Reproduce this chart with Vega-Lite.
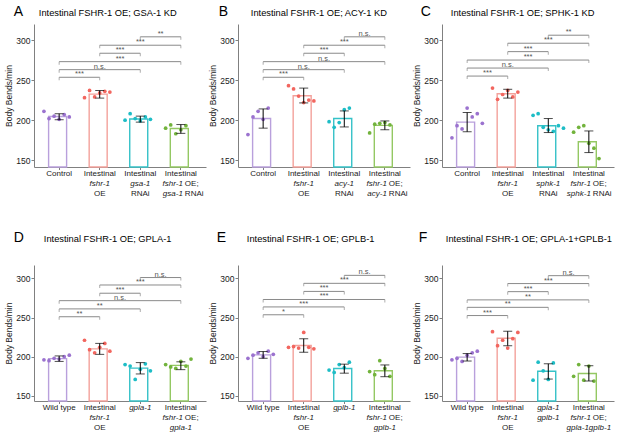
{
  "$schema": "https://vega.github.io/schema/vega-lite/v6.json",
  "padding": {"left": 4, "top": 5, "right": 2, "bottom": 2},
  "config": {
    "font": "Liberation Sans",
    "view": {"stroke": null},
    "axis": {"labelFont": "Liberation Sans", "titleFont": "Liberation Sans", "labelFontSize": 8.5, "titleFontSize": 8.5, "titleFontWeight": "normal", "labelColor": "#1a1a1a", "titleColor": "#1a1a1a", "domainColor": "#808080", "tickColor": "#808080", "tickSize": 3, "labelPadding": 1, "titlePadding": 2, "grid": false},
    "axisX": {"labelFontSize": 8, "labelLineHeight": 10, "labelAngle": 0, "labelPadding": 0, "tickSize": 2.5, "title": null},
    "title": {"font": "Liberation Sans", "fontWeight": "normal", "anchor": "start", "color": "#000000", "baseline": "alphabetic"}
  },
  "datasets": {
    "Ab": [{"g":1,"m":204.5,"lo":200.5,"hi":208},{"g":2,"m":232.5,"lo":227.5,"hi":237},{"g":3,"m":201.5,"lo":197.5,"hi":205},{"g":4,"m":189.5,"lo":183.5,"hi":194.5}],
    "Ap": [{"g":1,"r":1,"v":211},{"g":1,"r":2,"v":202},{"g":1,"r":3,"v":205},{"g":1,"r":4,"v":201},{"g":1,"r":5,"v":207},{"g":1,"r":6,"v":204},
           {"g":2,"r":1,"v":228},{"g":2,"r":2,"v":237},{"g":2,"r":3,"v":229},{"g":2,"r":4,"v":234},{"g":2,"r":5,"v":236},{"g":2,"r":6,"v":235},
           {"g":3,"r":1,"v":200},{"g":3,"r":2,"v":208},{"g":3,"r":3,"v":202},{"g":3,"r":4,"v":199},{"g":3,"r":5,"v":204},{"g":3,"r":6,"v":201},
           {"g":4,"r":1,"v":190},{"g":4,"r":2,"v":194},{"g":4,"r":3,"v":183},{"g":4,"r":4,"v":188},{"g":4,"r":5,"v":193}],
    "As": [{"a":1,"b":2,"y":253.5,"t":"***"},{"a":1,"b":3,"y":263,"t":"n.s."},{"a":1,"b":4,"y":273,"t":"***"},{"a":2,"b":3,"y":283.5,"t":"***"},{"a":2,"b":4,"y":293.5,"t":"***"},{"a":3,"b":4,"y":304,"t":"**"}],
    "Bb": [{"g":1,"m":202,"lo":190,"hi":214},{"g":2,"m":230.5,"lo":221.5,"hi":240},{"g":3,"m":202,"lo":191.5,"hi":211.5},{"g":4,"m":193.5,"lo":188,"hi":199}],
    "Bp": [{"g":1,"r":1,"v":182},{"g":1,"r":2,"v":204},{"g":1,"r":3,"v":211},{"g":1,"r":4,"v":201},{"g":1,"r":5,"v":215},
           {"g":2,"r":1,"v":243},{"g":2,"r":2,"v":239},{"g":2,"r":3,"v":230},{"g":2,"r":4,"v":222},{"g":2,"r":5,"v":225},{"g":2,"r":6,"v":224},
           {"g":3,"r":1,"v":198},{"g":3,"r":2,"v":191},{"g":3,"r":3,"v":197},{"g":3,"r":4,"v":213},{"g":3,"r":5,"v":215},
           {"g":4,"r":1,"v":184},{"g":4,"r":2,"v":195},{"g":4,"r":3,"v":196},{"g":4,"r":4,"v":197},{"g":4,"r":5,"v":194}],
    "Bs": [{"a":1,"b":2,"y":253.5,"t":"***"},{"a":1,"b":3,"y":263,"t":"n.s."},{"a":1,"b":4,"y":273,"t":"n.s."},{"a":2,"b":3,"y":283.5,"t":"***"},{"a":2,"b":4,"y":293.5,"t":"***"},{"a":3,"b":4,"y":304,"t":"n.s."}],
    "Cb": [{"g":1,"m":197.5,"lo":185.5,"hi":209.5},{"g":2,"m":233,"lo":227.5,"hi":238.5},{"g":3,"m":193,"lo":184.5,"hi":202},{"g":4,"m":173,"lo":159.5,"hi":186.5}],
    "Cp": [{"g":1,"r":1,"v":178},{"g":1,"r":2,"v":193},{"g":1,"r":3,"v":189},{"g":1,"r":4,"v":215},{"g":1,"r":5,"v":204},{"g":1,"r":6,"v":208},{"g":1,"r":7,"v":196},
           {"g":2,"r":1,"v":240},{"g":2,"r":2,"v":226},{"g":2,"r":3,"v":232},{"g":2,"r":4,"v":237},{"g":2,"r":5,"v":229},{"g":2,"r":6,"v":235},
           {"g":3,"r":1,"v":206},{"g":3,"r":2,"v":208},{"g":3,"r":3,"v":191},{"g":3,"r":4,"v":188},{"g":3,"r":5,"v":186},{"g":3,"r":6,"v":193},{"g":3,"r":7,"v":190},
           {"g":4,"r":1,"v":185},{"g":4,"r":2,"v":191},{"g":4,"r":3,"v":193},{"g":4,"r":4,"v":171},{"g":4,"r":5,"v":165},{"g":4,"r":6,"v":152}],
    "Cs": [{"a":1,"b":2,"y":255,"t":"***"},{"a":1,"b":3,"y":265,"t":"n.s."},{"a":1,"b":4,"y":275,"t":"***"},{"a":2,"b":3,"y":285.5,"t":"***"},{"a":2,"b":4,"y":296,"t":"***"},{"a":3,"b":4,"y":306,"t":"**"}],
    "Db": [{"g":1,"m":197.5,"lo":194,"hi":201},{"g":2,"m":210,"lo":203,"hi":217},{"g":3,"m":185.5,"lo":178,"hi":192.5},{"g":4,"m":189,"lo":183.5,"hi":193.5}],
    "Dp": [{"g":1,"r":1,"v":196},{"g":1,"r":2,"v":195},{"g":1,"r":3,"v":198},{"g":1,"r":4,"v":197},{"g":1,"r":5,"v":200},{"g":1,"r":6,"v":202},
           {"g":2,"r":1,"v":221},{"g":2,"r":2,"v":209},{"g":2,"r":3,"v":205},{"g":2,"r":4,"v":212},{"g":2,"r":5,"v":217},{"g":2,"r":6,"v":207},
           {"g":3,"r":1,"v":190},{"g":3,"r":2,"v":188},{"g":3,"r":3,"v":171},{"g":3,"r":4,"v":184},{"g":3,"r":5,"v":191},{"g":3,"r":6,"v":182},
           {"g":4,"r":1,"v":190},{"g":4,"r":2,"v":187},{"g":4,"r":3,"v":185},{"g":4,"r":4,"v":194},{"g":4,"r":5,"v":188},{"g":4,"r":6,"v":197}],
    "Ds": [{"a":1,"b":2,"y":251,"t":"**"},{"a":1,"b":3,"y":261,"t":"**"},{"a":1,"b":4,"y":271.5,"t":"n.s."},{"a":2,"b":3,"y":281,"t":"***"},{"a":2,"b":4,"y":291.5,"t":"***"},{"a":3,"b":4,"y":301,"t":"n.s."}],
    "Eb": [{"g":1,"m":202.3,"lo":198,"hi":206.6},{"g":2,"m":214.3,"lo":205.7,"hi":222.9},{"g":3,"m":185,"lo":179,"hi":190.5},{"g":4,"m":182,"lo":174.5,"hi":189.5}],
    "Ep": [{"g":1,"r":1,"v":198},{"g":1,"r":2,"v":202},{"g":1,"r":3,"v":205},{"g":1,"r":4,"v":200},{"g":1,"r":5,"v":207},{"g":1,"r":6,"v":203},
           {"g":2,"r":1,"v":212},{"g":2,"r":2,"v":213},{"g":2,"r":3,"v":211},{"g":2,"r":4,"v":231},{"g":2,"r":5,"v":212},{"g":2,"r":6,"v":210},
           {"g":3,"r":1,"v":183},{"g":3,"r":2,"v":180},{"g":3,"r":3,"v":190},{"g":3,"r":4,"v":186},{"g":3,"r":5,"v":193},
           {"g":4,"r":1,"v":181},{"g":4,"r":2,"v":177},{"g":4,"r":3,"v":195},{"g":4,"r":4,"v":185},{"g":4,"r":5,"v":175}],
    "Es": [{"a":1,"b":2,"y":253.5,"t":"*"},{"a":1,"b":3,"y":263.5,"t":"***"},{"a":1,"b":4,"y":273,"t":"***"},{"a":2,"b":3,"y":283.3,"t":"***"},{"a":2,"b":4,"y":293.6,"t":"***"},{"a":3,"b":4,"y":303.8,"t":"n.s."}],
    "Fb": [{"g":1,"m":199.5,"lo":194.5,"hi":204},{"g":2,"m":223.5,"lo":214,"hi":232.5},{"g":3,"m":181.5,"lo":171.5,"hi":191},{"g":4,"m":178.5,"lo":169,"hi":188.5}],
    "Fp": [{"g":1,"r":1,"v":196},{"g":1,"r":2,"v":198},{"g":1,"r":3,"v":194},{"g":1,"r":4,"v":202},{"g":1,"r":5,"v":205},{"g":1,"r":6,"v":207},
           {"g":2,"r":1,"v":232},{"g":2,"r":2,"v":214},{"g":2,"r":3,"v":221},{"g":2,"r":4,"v":211},{"g":2,"r":5,"v":223},{"g":2,"r":6,"v":231},
           {"g":3,"r":1,"v":170},{"g":3,"r":2,"v":193},{"g":3,"r":3,"v":182},{"g":3,"r":4,"v":171},{"g":3,"r":5,"v":192},
           {"g":4,"r":1,"v":175},{"g":4,"r":2,"v":190},{"g":4,"r":3,"v":170},{"g":4,"r":4,"v":188},{"g":4,"r":5,"v":169}],
    "Fs": [{"a":1,"b":2,"y":252.5,"t":"***"},{"a":1,"b":3,"y":263,"t":"**"},{"a":1,"b":4,"y":272.5,"t":"**"},{"a":2,"b":3,"y":283,"t":"***"},{"a":2,"b":4,"y":293.3,"t":"***"},{"a":3,"b":4,"y":303.4,"t":"n.s."}]
  },
  "spacing": 33,
  "vconcat": [
    {
      "spacing": 2,
      "hconcat": [
        {"title": {"text": "A", "fontSize": 14, "offset": -10.5, "dx": 9},
         "hconcat": [{
          "width": 172, "height": 143,
          "title": {"text": "Intestinal FSHR-1 OE; GSA-1 KD", "fontSize": 9.3, "dx": 34, "offset": 6},
          "resolve": {"axis": {"x": "independent"}},
          "layer": [
            {"data": {"name": "Ab"}, "mark": {"type": "bar", "fill": "white", "strokeWidth": 1.4, "width": {"band": 0.52}},
             "encoding": {
               "x": {"field": "g", "type": "ordinal", "scale": {"domain": [1,2,3,4], "paddingInner": 0, "paddingOuter": 0.12},
                     "axis": {"orient": "bottom", "title": null, "labelPadding": 0, "labelExpr": "datum.value == 1 ? 'Control' : 'Intestinal'"}},
               "y": {"field": "m", "type": "quantitative", "scale": {"domain": [141.5, 320], "nice": false, "zero": false, "clamp": true}, "axis": {"title": "Body Bends/min", "values": [150,200,250,300]}},
               "stroke": {"field": "g", "type": "nominal", "scale": {"domain": [1,2,3,4], "range": ["#b9a0dc", "#f3a19b", "#35c2c8", "#94c863"]}, "legend": null}}},
            {"data": {"name": "Ap"}, "mark": {"type": "circle", "size": 14, "opacity": 1},
             "encoding": {
               "x": {"field": "g", "type": "ordinal", "axis": {"orient": "bottom", "title": null, "domain": false, "tickOpacity": 0, "labelPadding": 10, "labelFontStyle": "italic", "labelExpr": "datum.value == 2 ? 'fshr-1' : datum.value == 3 ? 'gsa-1' : ''"}},
               "xOffset": {"field": "r", "type": "nominal", "scale": {"paddingOuter": 3}},
               "y": {"field": "v", "type": "quantitative"},
               "color": {"field": "g", "type": "nominal", "scale": {"domain": [1,2,3,4], "range": ["#9b72cf", "#f2665f", "#1ebdc6", "#72b33c"]}, "legend": null}}},
            {"data": {"name": "Ab"}, "mark": {"type": "rule", "color": "black", "strokeWidth": 1},
             "encoding": {"x": {"field": "g", "type": "ordinal", "axis": {"orient": "bottom", "title": null, "domain": false, "tickOpacity": 0, "labelPadding": 20, "labelExpr": "datum.value == 2 ? 'OE' : datum.value == 3 ? 'RNAi' : ''"}}, "y": {"field": "lo", "type": "quantitative"}, "y2": {"field": "hi"}}},
            {"data": {"name": "Ab"}, "mark": {"type": "tick", "color": "black", "size": 9, "thickness": 1},
             "encoding": {"x": {"field": "g", "type": "ordinal", "axis": {"orient": "bottom", "title": null, "domain": false, "tickOpacity": 0, "labelPadding": 10, "labelAlign": "left", "labelOffset": 4, "labelExpr": "datum.value == 4 ? ['OE;', 'RNAi'] : ''"}}, "y": {"field": "lo", "type": "quantitative"}}},
            {"data": {"name": "Ab"}, "mark": {"type": "tick", "color": "black", "size": 9, "thickness": 1},
             "encoding": {"x": {"field": "g", "type": "ordinal", "axis": {"orient": "bottom", "title": null, "domain": false, "tickOpacity": 0, "labelPadding": 10, "labelAlign": "right", "labelOffset": 2, "labelFontStyle": "italic", "labelExpr": "datum.value == 4 ? ['fshr-1', 'gsa-1'] : ''"}}, "y": {"field": "hi", "type": "quantitative"}}},
            {"data": {"name": "As"}, "mark": {"type": "rule", "color": "#8a8a8a", "strokeWidth": 1},
             "encoding": {"x": {"field": "a", "type": "ordinal", "axis": null}, "x2": {"field": "b"}, "y": {"field": "y", "type": "quantitative"}}},
            {"data": {"name": "As"}, "mark": {"type": "tick", "orient": "vertical", "color": "#8a8a8a", "size": 3, "thickness": 1, "yOffset": 1.5},
             "encoding": {"x": {"field": "a", "type": "ordinal", "axis": null}, "y": {"field": "y", "type": "quantitative"}}},
            {"data": {"name": "As"}, "mark": {"type": "tick", "orient": "vertical", "color": "#8a8a8a", "size": 3, "thickness": 1, "yOffset": 1.5},
             "encoding": {"x": {"field": "b", "type": "ordinal", "axis": null}, "y": {"field": "y", "type": "quantitative"}}},
            {"data": {"name": "As"}, "transform": [{"filter": "datum.b - datum.a == 1"}], "mark": {"type": "text", "fontSize": 7.5, "color": "#555555", "baseline": "alphabetic", "dy": -1},
             "encoding": {"x": {"field": "a", "type": "ordinal", "bandPosition": 1, "axis": null}, "y": {"field": "y", "type": "quantitative"}, "text": {"field": "t"}}},
            {"data": {"name": "As"}, "transform": [{"filter": "datum.b - datum.a == 2"}], "mark": {"type": "text", "fontSize": 7.5, "color": "#555555", "baseline": "alphabetic", "dy": -1},
             "encoding": {"x": {"field": "a", "type": "ordinal", "bandPosition": 1.5, "axis": null}, "y": {"field": "y", "type": "quantitative"}, "text": {"field": "t"}}},
            {"data": {"name": "As"}, "transform": [{"filter": "datum.b - datum.a == 3"}], "mark": {"type": "text", "fontSize": 7.5, "color": "#555555", "baseline": "alphabetic", "dy": -1},
             "encoding": {"x": {"field": "a", "type": "ordinal", "bandPosition": 2, "axis": null}, "y": {"field": "y", "type": "quantitative"}, "text": {"field": "t"}}}
          ]
         }]
        },
        {"title": {"text": "B", "fontSize": 14, "offset": -10.5, "dx": 10},
         "hconcat": [{
          "width": 172, "height": 143,
          "title": {"text": "Intestinal FSHR-1 OE; ACY-1 KD", "fontSize": 9.3, "dx": 42, "offset": 6},
          "resolve": {"axis": {"x": "independent"}},
          "layer": [
            {"data": {"name": "Bb"}, "mark": {"type": "bar", "fill": "white", "strokeWidth": 1.4, "width": {"band": 0.52}},
             "encoding": {
               "x": {"field": "g", "type": "ordinal", "scale": {"domain": [1,2,3,4], "paddingInner": 0, "paddingOuter": 0.12},
                     "axis": {"orient": "bottom", "title": null, "labelPadding": 0, "labelExpr": "datum.value == 1 ? 'Control' : 'Intestinal'"}},
               "y": {"field": "m", "type": "quantitative", "scale": {"domain": [141.5, 320], "nice": false, "zero": false, "clamp": true}, "axis": {"title": "Body Bends/min", "values": [150,200,250,300]}},
               "stroke": {"field": "g", "type": "nominal", "scale": {"domain": [1,2,3,4], "range": ["#b9a0dc", "#f3a19b", "#35c2c8", "#94c863"]}, "legend": null}}},
            {"data": {"name": "Bp"}, "mark": {"type": "circle", "size": 14, "opacity": 1},
             "encoding": {
               "x": {"field": "g", "type": "ordinal", "axis": {"orient": "bottom", "title": null, "domain": false, "tickOpacity": 0, "labelPadding": 10, "labelFontStyle": "italic", "labelExpr": "datum.value == 2 ? 'fshr-1' : datum.value == 3 ? 'acy-1' : ''"}},
               "xOffset": {"field": "r", "type": "nominal", "scale": {"paddingOuter": 3}},
               "y": {"field": "v", "type": "quantitative"},
               "color": {"field": "g", "type": "nominal", "scale": {"domain": [1,2,3,4], "range": ["#9b72cf", "#f2665f", "#1ebdc6", "#72b33c"]}, "legend": null}}},
            {"data": {"name": "Bb"}, "mark": {"type": "rule", "color": "black", "strokeWidth": 1},
             "encoding": {"x": {"field": "g", "type": "ordinal", "axis": {"orient": "bottom", "title": null, "domain": false, "tickOpacity": 0, "labelPadding": 20, "labelExpr": "datum.value == 2 ? 'OE' : datum.value == 3 ? 'RNAi' : ''"}}, "y": {"field": "lo", "type": "quantitative"}, "y2": {"field": "hi"}}},
            {"data": {"name": "Bb"}, "mark": {"type": "tick", "color": "black", "size": 9, "thickness": 1},
             "encoding": {"x": {"field": "g", "type": "ordinal", "axis": {"orient": "bottom", "title": null, "domain": false, "tickOpacity": 0, "labelPadding": 10, "labelAlign": "left", "labelOffset": 4, "labelExpr": "datum.value == 4 ? ['OE;', 'RNAi'] : ''"}}, "y": {"field": "lo", "type": "quantitative"}}},
            {"data": {"name": "Bb"}, "mark": {"type": "tick", "color": "black", "size": 9, "thickness": 1},
             "encoding": {"x": {"field": "g", "type": "ordinal", "axis": {"orient": "bottom", "title": null, "domain": false, "tickOpacity": 0, "labelPadding": 10, "labelAlign": "right", "labelOffset": 2, "labelFontStyle": "italic", "labelExpr": "datum.value == 4 ? ['fshr-1', 'acy-1'] : ''"}}, "y": {"field": "hi", "type": "quantitative"}}},
            {"data": {"name": "Bs"}, "mark": {"type": "rule", "color": "#8a8a8a", "strokeWidth": 1},
             "encoding": {"x": {"field": "a", "type": "ordinal", "axis": null}, "x2": {"field": "b"}, "y": {"field": "y", "type": "quantitative"}}},
            {"data": {"name": "Bs"}, "mark": {"type": "tick", "orient": "vertical", "color": "#8a8a8a", "size": 3, "thickness": 1, "yOffset": 1.5},
             "encoding": {"x": {"field": "a", "type": "ordinal", "axis": null}, "y": {"field": "y", "type": "quantitative"}}},
            {"data": {"name": "Bs"}, "mark": {"type": "tick", "orient": "vertical", "color": "#8a8a8a", "size": 3, "thickness": 1, "yOffset": 1.5},
             "encoding": {"x": {"field": "b", "type": "ordinal", "axis": null}, "y": {"field": "y", "type": "quantitative"}}},
            {"data": {"name": "Bs"}, "transform": [{"filter": "datum.b - datum.a == 1"}], "mark": {"type": "text", "fontSize": 7.5, "color": "#555555", "baseline": "alphabetic", "dy": -1},
             "encoding": {"x": {"field": "a", "type": "ordinal", "bandPosition": 1, "axis": null}, "y": {"field": "y", "type": "quantitative"}, "text": {"field": "t"}}},
            {"data": {"name": "Bs"}, "transform": [{"filter": "datum.b - datum.a == 2"}], "mark": {"type": "text", "fontSize": 7.5, "color": "#555555", "baseline": "alphabetic", "dy": -1},
             "encoding": {"x": {"field": "a", "type": "ordinal", "bandPosition": 1.5, "axis": null}, "y": {"field": "y", "type": "quantitative"}, "text": {"field": "t"}}},
            {"data": {"name": "Bs"}, "transform": [{"filter": "datum.b - datum.a == 3"}], "mark": {"type": "text", "fontSize": 7.5, "color": "#555555", "baseline": "alphabetic", "dy": -1},
             "encoding": {"x": {"field": "a", "type": "ordinal", "bandPosition": 2, "axis": null}, "y": {"field": "y", "type": "quantitative"}, "text": {"field": "t"}}}
          ]
         }]
        },
        {"title": {"text": "C", "fontSize": 14, "offset": -10.5, "dx": 8},
         "hconcat": [{
          "width": 172, "height": 143,
          "title": {"text": "Intestinal FSHR-1 OE; SPHK-1 KD", "fontSize": 9.3, "dx": 38, "offset": 6},
          "resolve": {"axis": {"x": "independent"}},
          "layer": [
            {"data": {"name": "Cb"}, "mark": {"type": "bar", "fill": "white", "strokeWidth": 1.4, "width": {"band": 0.52}},
             "encoding": {
               "x": {"field": "g", "type": "ordinal", "scale": {"domain": [1,2,3,4], "paddingInner": 0, "paddingOuter": 0.12},
                     "axis": {"orient": "bottom", "title": null, "labelPadding": 0, "labelExpr": "datum.value == 1 ? 'Control' : 'Intestinal'"}},
               "y": {"field": "m", "type": "quantitative", "scale": {"domain": [141.5, 320], "nice": false, "zero": false, "clamp": true}, "axis": {"title": "Body Bends/min", "values": [150,200,250,300]}},
               "stroke": {"field": "g", "type": "nominal", "scale": {"domain": [1,2,3,4], "range": ["#b9a0dc", "#f3a19b", "#35c2c8", "#94c863"]}, "legend": null}}},
            {"data": {"name": "Cp"}, "mark": {"type": "circle", "size": 14, "opacity": 1},
             "encoding": {
               "x": {"field": "g", "type": "ordinal", "axis": {"orient": "bottom", "title": null, "domain": false, "tickOpacity": 0, "labelPadding": 10, "labelFontStyle": "italic", "labelExpr": "datum.value == 2 ? 'fshr-1' : datum.value == 3 ? 'sphk-1' : ''"}},
               "xOffset": {"field": "r", "type": "nominal", "scale": {"paddingOuter": 3}},
               "y": {"field": "v", "type": "quantitative"},
               "color": {"field": "g", "type": "nominal", "scale": {"domain": [1,2,3,4], "range": ["#9b72cf", "#f2665f", "#1ebdc6", "#72b33c"]}, "legend": null}}},
            {"data": {"name": "Cb"}, "mark": {"type": "rule", "color": "black", "strokeWidth": 1},
             "encoding": {"x": {"field": "g", "type": "ordinal", "axis": {"orient": "bottom", "title": null, "domain": false, "tickOpacity": 0, "labelPadding": 20, "labelExpr": "datum.value == 2 ? 'OE' : datum.value == 3 ? 'RNAi' : ''"}}, "y": {"field": "lo", "type": "quantitative"}, "y2": {"field": "hi"}}},
            {"data": {"name": "Cb"}, "mark": {"type": "tick", "color": "black", "size": 9, "thickness": 1},
             "encoding": {"x": {"field": "g", "type": "ordinal", "axis": {"orient": "bottom", "title": null, "domain": false, "tickOpacity": 0, "labelPadding": 10, "labelAlign": "left", "labelOffset": 4, "labelExpr": "datum.value == 4 ? ['OE;', 'RNAi'] : ''"}}, "y": {"field": "lo", "type": "quantitative"}}},
            {"data": {"name": "Cb"}, "mark": {"type": "tick", "color": "black", "size": 9, "thickness": 1},
             "encoding": {"x": {"field": "g", "type": "ordinal", "axis": {"orient": "bottom", "title": null, "domain": false, "tickOpacity": 0, "labelPadding": 10, "labelAlign": "right", "labelOffset": 2, "labelFontStyle": "italic", "labelExpr": "datum.value == 4 ? ['fshr-1', 'sphk-1'] : ''"}}, "y": {"field": "hi", "type": "quantitative"}}},
            {"data": {"name": "Cs"}, "mark": {"type": "rule", "color": "#8a8a8a", "strokeWidth": 1},
             "encoding": {"x": {"field": "a", "type": "ordinal", "axis": null}, "x2": {"field": "b"}, "y": {"field": "y", "type": "quantitative"}}},
            {"data": {"name": "Cs"}, "mark": {"type": "tick", "orient": "vertical", "color": "#8a8a8a", "size": 3, "thickness": 1, "yOffset": 1.5},
             "encoding": {"x": {"field": "a", "type": "ordinal", "axis": null}, "y": {"field": "y", "type": "quantitative"}}},
            {"data": {"name": "Cs"}, "mark": {"type": "tick", "orient": "vertical", "color": "#8a8a8a", "size": 3, "thickness": 1, "yOffset": 1.5},
             "encoding": {"x": {"field": "b", "type": "ordinal", "axis": null}, "y": {"field": "y", "type": "quantitative"}}},
            {"data": {"name": "Cs"}, "transform": [{"filter": "datum.b - datum.a == 1"}], "mark": {"type": "text", "fontSize": 7.5, "color": "#555555", "baseline": "alphabetic", "dy": -1},
             "encoding": {"x": {"field": "a", "type": "ordinal", "bandPosition": 1, "axis": null}, "y": {"field": "y", "type": "quantitative"}, "text": {"field": "t"}}},
            {"data": {"name": "Cs"}, "transform": [{"filter": "datum.b - datum.a == 2"}], "mark": {"type": "text", "fontSize": 7.5, "color": "#555555", "baseline": "alphabetic", "dy": -1},
             "encoding": {"x": {"field": "a", "type": "ordinal", "bandPosition": 1.5, "axis": null}, "y": {"field": "y", "type": "quantitative"}, "text": {"field": "t"}}},
            {"data": {"name": "Cs"}, "transform": [{"filter": "datum.b - datum.a == 3"}], "mark": {"type": "text", "fontSize": 7.5, "color": "#555555", "baseline": "alphabetic", "dy": -1},
             "encoding": {"x": {"field": "a", "type": "ordinal", "bandPosition": 2, "axis": null}, "y": {"field": "y", "type": "quantitative"}, "text": {"field": "t"}}}
          ]
         }]
        }
      ]
    },
    {
      "spacing": 2,
      "hconcat": [
        {"title": {"text": "D", "fontSize": 14, "offset": -10.5, "dx": 9},
         "hconcat": [{
          "width": 172, "height": 136,
          "title": {"text": "Intestinal FSHR-1 OE; GPLA-1", "fontSize": 9.3, "dx": 39, "offset": 21},
          "resolve": {"axis": {"x": "independent"}},
          "layer": [
            {"data": {"name": "Db"}, "mark": {"type": "bar", "fill": "white", "strokeWidth": 1.4, "width": {"band": 0.52}},
             "encoding": {
               "x": {"field": "g", "type": "ordinal", "scale": {"domain": [1,2,3,4], "paddingInner": 0, "paddingOuter": 0.12},
                     "axis": {"orient": "bottom", "title": null, "labelPadding": 0, "labelExpr": "datum.value == 1 ? 'Wild type' : datum.value == 3 ? '' : 'Intestinal'"}},
               "y": {"field": "m", "type": "quantitative", "scale": {"domain": [143.5, 317], "nice": false, "zero": false, "clamp": true}, "axis": {"title": "Body Bends/min", "values": [150,200,250,300]}},
               "stroke": {"field": "g", "type": "nominal", "scale": {"domain": [1,2,3,4], "range": ["#b9a0dc", "#f3a19b", "#35c2c8", "#94c863"]}, "legend": null}}},
            {"data": {"name": "Dp"}, "mark": {"type": "circle", "size": 14, "opacity": 1},
             "encoding": {
               "x": {"field": "g", "type": "ordinal", "axis": {"orient": "bottom", "title": null, "domain": false, "tickOpacity": 0, "labelPadding": 0, "labelFontStyle": "italic", "labelExpr": "datum.value == 3 ? 'gpla-1' : ''"}},
               "xOffset": {"field": "r", "type": "nominal", "scale": {"paddingOuter": 3}},
               "y": {"field": "v", "type": "quantitative"},
               "color": {"field": "g", "type": "nominal", "scale": {"domain": [1,2,3,4], "range": ["#9b72cf", "#f2665f", "#1ebdc6", "#72b33c"]}, "legend": null}}},
            {"data": {"name": "Db"}, "mark": {"type": "rule", "color": "black", "strokeWidth": 1},
             "encoding": {"x": {"field": "g", "type": "ordinal", "axis": {"orient": "bottom", "title": null, "domain": false, "tickOpacity": 0, "labelPadding": 10, "labelFontStyle": "italic", "labelExpr": "datum.value == 2 ? 'fshr-1' : ''"}}, "y": {"field": "lo", "type": "quantitative"}, "y2": {"field": "hi"}}},
            {"data": {"name": "Db"}, "mark": {"type": "tick", "color": "black", "size": 9, "thickness": 1},
             "encoding": {"x": {"field": "g", "type": "ordinal", "axis": {"orient": "bottom", "title": null, "domain": false, "tickOpacity": 0, "labelPadding": 20, "labelExpr": "datum.value == 2 ? 'OE' : ''"}}, "y": {"field": "lo", "type": "quantitative"}}},
            {"data": {"name": "Db"}, "mark": {"type": "tick", "color": "black", "size": 9, "thickness": 1},
             "encoding": {"x": {"field": "g", "type": "ordinal", "axis": {"orient": "bottom", "title": null, "domain": false, "tickOpacity": 0, "labelPadding": 20, "labelFontStyle": "italic", "labelExpr": "datum.value == 4 ? 'gpla-1' : ''"}}, "y": {"field": "hi", "type": "quantitative"}}},
            {"data": {"name": "Ds"}, "mark": {"type": "rule", "color": "#8a8a8a", "strokeWidth": 1},
             "encoding": {"x": {"field": "a", "type": "ordinal", "axis": null}, "x2": {"field": "b"}, "y": {"field": "y", "type": "quantitative"}}},
            {"data": {"name": "Ds"}, "mark": {"type": "tick", "orient": "vertical", "color": "#8a8a8a", "size": 3, "thickness": 1, "yOffset": 1.5},
             "encoding": {"x": {"field": "a", "type": "ordinal", "axis": {"orient": "bottom", "title": null, "domain": false, "tickOpacity": 0, "labelPadding": 10, "labelAlign": "left", "labelOffset": 4, "labelExpr": "datum.value == 4 ? 'OE;' : ''"}}, "y": {"field": "y", "type": "quantitative"}}},
            {"data": {"name": "Ds"}, "mark": {"type": "tick", "orient": "vertical", "color": "#8a8a8a", "size": 3, "thickness": 1, "yOffset": 1.5},
             "encoding": {"x": {"field": "b", "type": "ordinal", "axis": {"orient": "bottom", "title": null, "domain": false, "tickOpacity": 0, "labelPadding": 10, "labelAlign": "right", "labelOffset": 2, "labelFontStyle": "italic", "labelExpr": "datum.value == 4 ? 'fshr-1' : ''"}}, "y": {"field": "y", "type": "quantitative"}}},
            {"data": {"name": "Ds"}, "transform": [{"filter": "datum.b - datum.a == 1"}], "mark": {"type": "text", "fontSize": 7.5, "color": "#555555", "baseline": "alphabetic", "dy": -1},
             "encoding": {"x": {"field": "a", "type": "ordinal", "bandPosition": 1, "axis": null}, "y": {"field": "y", "type": "quantitative"}, "text": {"field": "t"}}},
            {"data": {"name": "Ds"}, "transform": [{"filter": "datum.b - datum.a == 2"}], "mark": {"type": "text", "fontSize": 7.5, "color": "#555555", "baseline": "alphabetic", "dy": -1},
             "encoding": {"x": {"field": "a", "type": "ordinal", "bandPosition": 1.5, "axis": null}, "y": {"field": "y", "type": "quantitative"}, "text": {"field": "t"}}},
            {"data": {"name": "Ds"}, "transform": [{"filter": "datum.b - datum.a == 3"}], "mark": {"type": "text", "fontSize": 7.5, "color": "#555555", "baseline": "alphabetic", "dy": -1},
             "encoding": {"x": {"field": "a", "type": "ordinal", "bandPosition": 2, "axis": null}, "y": {"field": "y", "type": "quantitative"}, "text": {"field": "t"}}}
          ]
         }]
        },
        {"title": {"text": "E", "fontSize": 14, "offset": -10.5, "dx": 8},
         "hconcat": [{
          "width": 172, "height": 136,
          "title": {"text": "Intestinal FSHR-1 OE; GPLB-1", "fontSize": 9.3, "dx": 38, "offset": 21},
          "resolve": {"axis": {"x": "independent"}},
          "layer": [
            {"data": {"name": "Eb"}, "mark": {"type": "bar", "fill": "white", "strokeWidth": 1.4, "width": {"band": 0.52}},
             "encoding": {
               "x": {"field": "g", "type": "ordinal", "scale": {"domain": [1,2,3,4], "paddingInner": 0, "paddingOuter": 0.12},
                     "axis": {"orient": "bottom", "title": null, "labelPadding": 0, "labelExpr": "datum.value == 1 ? 'Wild type' : datum.value == 3 ? '' : 'Intestinal'"}},
               "y": {"field": "m", "type": "quantitative", "scale": {"domain": [143.5, 317], "nice": false, "zero": false, "clamp": true}, "axis": {"title": "Body Bends/min", "values": [150,200,250,300]}},
               "stroke": {"field": "g", "type": "nominal", "scale": {"domain": [1,2,3,4], "range": ["#b9a0dc", "#f3a19b", "#35c2c8", "#94c863"]}, "legend": null}}},
            {"data": {"name": "Ep"}, "mark": {"type": "circle", "size": 14, "opacity": 1},
             "encoding": {
               "x": {"field": "g", "type": "ordinal", "axis": {"orient": "bottom", "title": null, "domain": false, "tickOpacity": 0, "labelPadding": 0, "labelFontStyle": "italic", "labelExpr": "datum.value == 3 ? 'gplb-1' : ''"}},
               "xOffset": {"field": "r", "type": "nominal", "scale": {"paddingOuter": 3}},
               "y": {"field": "v", "type": "quantitative"},
               "color": {"field": "g", "type": "nominal", "scale": {"domain": [1,2,3,4], "range": ["#9b72cf", "#f2665f", "#1ebdc6", "#72b33c"]}, "legend": null}}},
            {"data": {"name": "Eb"}, "mark": {"type": "rule", "color": "black", "strokeWidth": 1},
             "encoding": {"x": {"field": "g", "type": "ordinal", "axis": {"orient": "bottom", "title": null, "domain": false, "tickOpacity": 0, "labelPadding": 10, "labelFontStyle": "italic", "labelExpr": "datum.value == 2 ? 'fshr-1' : ''"}}, "y": {"field": "lo", "type": "quantitative"}, "y2": {"field": "hi"}}},
            {"data": {"name": "Eb"}, "mark": {"type": "tick", "color": "black", "size": 9, "thickness": 1},
             "encoding": {"x": {"field": "g", "type": "ordinal", "axis": {"orient": "bottom", "title": null, "domain": false, "tickOpacity": 0, "labelPadding": 20, "labelExpr": "datum.value == 2 ? 'OE' : ''"}}, "y": {"field": "lo", "type": "quantitative"}}},
            {"data": {"name": "Eb"}, "mark": {"type": "tick", "color": "black", "size": 9, "thickness": 1},
             "encoding": {"x": {"field": "g", "type": "ordinal", "axis": {"orient": "bottom", "title": null, "domain": false, "tickOpacity": 0, "labelPadding": 20, "labelFontStyle": "italic", "labelExpr": "datum.value == 4 ? 'gplb-1' : ''"}}, "y": {"field": "hi", "type": "quantitative"}}},
            {"data": {"name": "Es"}, "mark": {"type": "rule", "color": "#8a8a8a", "strokeWidth": 1},
             "encoding": {"x": {"field": "a", "type": "ordinal", "axis": null}, "x2": {"field": "b"}, "y": {"field": "y", "type": "quantitative"}}},
            {"data": {"name": "Es"}, "mark": {"type": "tick", "orient": "vertical", "color": "#8a8a8a", "size": 3, "thickness": 1, "yOffset": 1.5},
             "encoding": {"x": {"field": "a", "type": "ordinal", "axis": {"orient": "bottom", "title": null, "domain": false, "tickOpacity": 0, "labelPadding": 10, "labelAlign": "left", "labelOffset": 4, "labelExpr": "datum.value == 4 ? 'OE;' : ''"}}, "y": {"field": "y", "type": "quantitative"}}},
            {"data": {"name": "Es"}, "mark": {"type": "tick", "orient": "vertical", "color": "#8a8a8a", "size": 3, "thickness": 1, "yOffset": 1.5},
             "encoding": {"x": {"field": "b", "type": "ordinal", "axis": {"orient": "bottom", "title": null, "domain": false, "tickOpacity": 0, "labelPadding": 10, "labelAlign": "right", "labelOffset": 2, "labelFontStyle": "italic", "labelExpr": "datum.value == 4 ? 'fshr-1' : ''"}}, "y": {"field": "y", "type": "quantitative"}}},
            {"data": {"name": "Es"}, "transform": [{"filter": "datum.b - datum.a == 1"}], "mark": {"type": "text", "fontSize": 7.5, "color": "#555555", "baseline": "alphabetic", "dy": -1},
             "encoding": {"x": {"field": "a", "type": "ordinal", "bandPosition": 1, "axis": null}, "y": {"field": "y", "type": "quantitative"}, "text": {"field": "t"}}},
            {"data": {"name": "Es"}, "transform": [{"filter": "datum.b - datum.a == 2"}], "mark": {"type": "text", "fontSize": 7.5, "color": "#555555", "baseline": "alphabetic", "dy": -1},
             "encoding": {"x": {"field": "a", "type": "ordinal", "bandPosition": 1.5, "axis": null}, "y": {"field": "y", "type": "quantitative"}, "text": {"field": "t"}}},
            {"data": {"name": "Es"}, "transform": [{"filter": "datum.b - datum.a == 3"}], "mark": {"type": "text", "fontSize": 7.5, "color": "#555555", "baseline": "alphabetic", "dy": -1},
             "encoding": {"x": {"field": "a", "type": "ordinal", "bandPosition": 2, "axis": null}, "y": {"field": "y", "type": "quantitative"}, "text": {"field": "t"}}}
          ]
         }]
        },
        {"title": {"text": "F", "fontSize": 14, "offset": -10.5, "dx": 6},
         "hconcat": [{
          "width": 172, "height": 136,
          "title": {"text": "Intestinal FSHR-1 OE; GPLA-1+GPLB-1", "fontSize": 9.3, "dx": 33, "offset": 21},
          "resolve": {"axis": {"x": "independent"}},
          "layer": [
            {"data": {"name": "Fb"}, "mark": {"type": "bar", "fill": "white", "strokeWidth": 1.4, "width": {"band": 0.52}},
             "encoding": {
               "x": {"field": "g", "type": "ordinal", "scale": {"domain": [1,2,3,4], "paddingInner": 0, "paddingOuter": 0.12},
                     "axis": {"orient": "bottom", "title": null, "labelPadding": 0, "labelExpr": "datum.value == 1 ? 'Wild type' : datum.value == 3 ? '' : 'Intestinal'"}},
               "y": {"field": "m", "type": "quantitative", "scale": {"domain": [143.5, 317], "nice": false, "zero": false, "clamp": true}, "axis": {"title": "Body Bends/min", "values": [150,200,250,300]}},
               "stroke": {"field": "g", "type": "nominal", "scale": {"domain": [1,2,3,4], "range": ["#b9a0dc", "#f3a19b", "#35c2c8", "#94c863"]}, "legend": null}}},
            {"data": {"name": "Fp"}, "mark": {"type": "circle", "size": 14, "opacity": 1},
             "encoding": {
               "x": {"field": "g", "type": "ordinal", "axis": {"orient": "bottom", "title": null, "domain": false, "tickOpacity": 0, "labelPadding": 0, "labelFontStyle": "italic", "labelExpr": "datum.value == 3 ? ['gpla-1', 'gplb-1'] : ''"}},
               "xOffset": {"field": "r", "type": "nominal", "scale": {"paddingOuter": 3}},
               "y": {"field": "v", "type": "quantitative"},
               "color": {"field": "g", "type": "nominal", "scale": {"domain": [1,2,3,4], "range": ["#9b72cf", "#f2665f", "#1ebdc6", "#72b33c"]}, "legend": null}}},
            {"data": {"name": "Fb"}, "mark": {"type": "rule", "color": "black", "strokeWidth": 1},
             "encoding": {"x": {"field": "g", "type": "ordinal", "axis": {"orient": "bottom", "title": null, "domain": false, "tickOpacity": 0, "labelPadding": 10, "labelFontStyle": "italic", "labelExpr": "datum.value == 2 ? 'fshr-1' : ''"}}, "y": {"field": "lo", "type": "quantitative"}, "y2": {"field": "hi"}}},
            {"data": {"name": "Fb"}, "mark": {"type": "tick", "color": "black", "size": 9, "thickness": 1},
             "encoding": {"x": {"field": "g", "type": "ordinal", "axis": {"orient": "bottom", "title": null, "domain": false, "tickOpacity": 0, "labelPadding": 20, "labelExpr": "datum.value == 2 ? 'OE' : ''"}}, "y": {"field": "lo", "type": "quantitative"}}},
            {"data": {"name": "Fb"}, "mark": {"type": "tick", "color": "black", "size": 9, "thickness": 1},
             "encoding": {"x": {"field": "g", "type": "ordinal", "axis": {"orient": "bottom", "title": null, "domain": false, "tickOpacity": 0, "labelPadding": 20, "labelFontStyle": "italic", "labelExpr": "datum.value == 4 ? 'gpla-1gplb-1' : ''"}}, "y": {"field": "hi", "type": "quantitative"}}},
            {"data": {"name": "Fs"}, "mark": {"type": "rule", "color": "#8a8a8a", "strokeWidth": 1},
             "encoding": {"x": {"field": "a", "type": "ordinal", "axis": null}, "x2": {"field": "b"}, "y": {"field": "y", "type": "quantitative"}}},
            {"data": {"name": "Fs"}, "mark": {"type": "tick", "orient": "vertical", "color": "#8a8a8a", "size": 3, "thickness": 1, "yOffset": 1.5},
             "encoding": {"x": {"field": "a", "type": "ordinal", "axis": {"orient": "bottom", "title": null, "domain": false, "tickOpacity": 0, "labelPadding": 10, "labelAlign": "left", "labelOffset": 4, "labelExpr": "datum.value == 4 ? 'OE;' : ''"}}, "y": {"field": "y", "type": "quantitative"}}},
            {"data": {"name": "Fs"}, "mark": {"type": "tick", "orient": "vertical", "color": "#8a8a8a", "size": 3, "thickness": 1, "yOffset": 1.5},
             "encoding": {"x": {"field": "b", "type": "ordinal", "axis": {"orient": "bottom", "title": null, "domain": false, "tickOpacity": 0, "labelPadding": 10, "labelAlign": "right", "labelOffset": 2, "labelFontStyle": "italic", "labelExpr": "datum.value == 4 ? 'fshr-1' : ''"}}, "y": {"field": "y", "type": "quantitative"}}},
            {"data": {"name": "Fs"}, "transform": [{"filter": "datum.b - datum.a == 1"}], "mark": {"type": "text", "fontSize": 7.5, "color": "#555555", "baseline": "alphabetic", "dy": -1},
             "encoding": {"x": {"field": "a", "type": "ordinal", "bandPosition": 1, "axis": null}, "y": {"field": "y", "type": "quantitative"}, "text": {"field": "t"}}},
            {"data": {"name": "Fs"}, "transform": [{"filter": "datum.b - datum.a == 2"}], "mark": {"type": "text", "fontSize": 7.5, "color": "#555555", "baseline": "alphabetic", "dy": -1},
             "encoding": {"x": {"field": "a", "type": "ordinal", "bandPosition": 1.5, "axis": null}, "y": {"field": "y", "type": "quantitative"}, "text": {"field": "t"}}},
            {"data": {"name": "Fs"}, "transform": [{"filter": "datum.b - datum.a == 3"}], "mark": {"type": "text", "fontSize": 7.5, "color": "#555555", "baseline": "alphabetic", "dy": -1},
             "encoding": {"x": {"field": "a", "type": "ordinal", "bandPosition": 2, "axis": null}, "y": {"field": "y", "type": "quantitative"}, "text": {"field": "t"}}}
          ]
         }]
        }
      ]
    }
  ]
}
